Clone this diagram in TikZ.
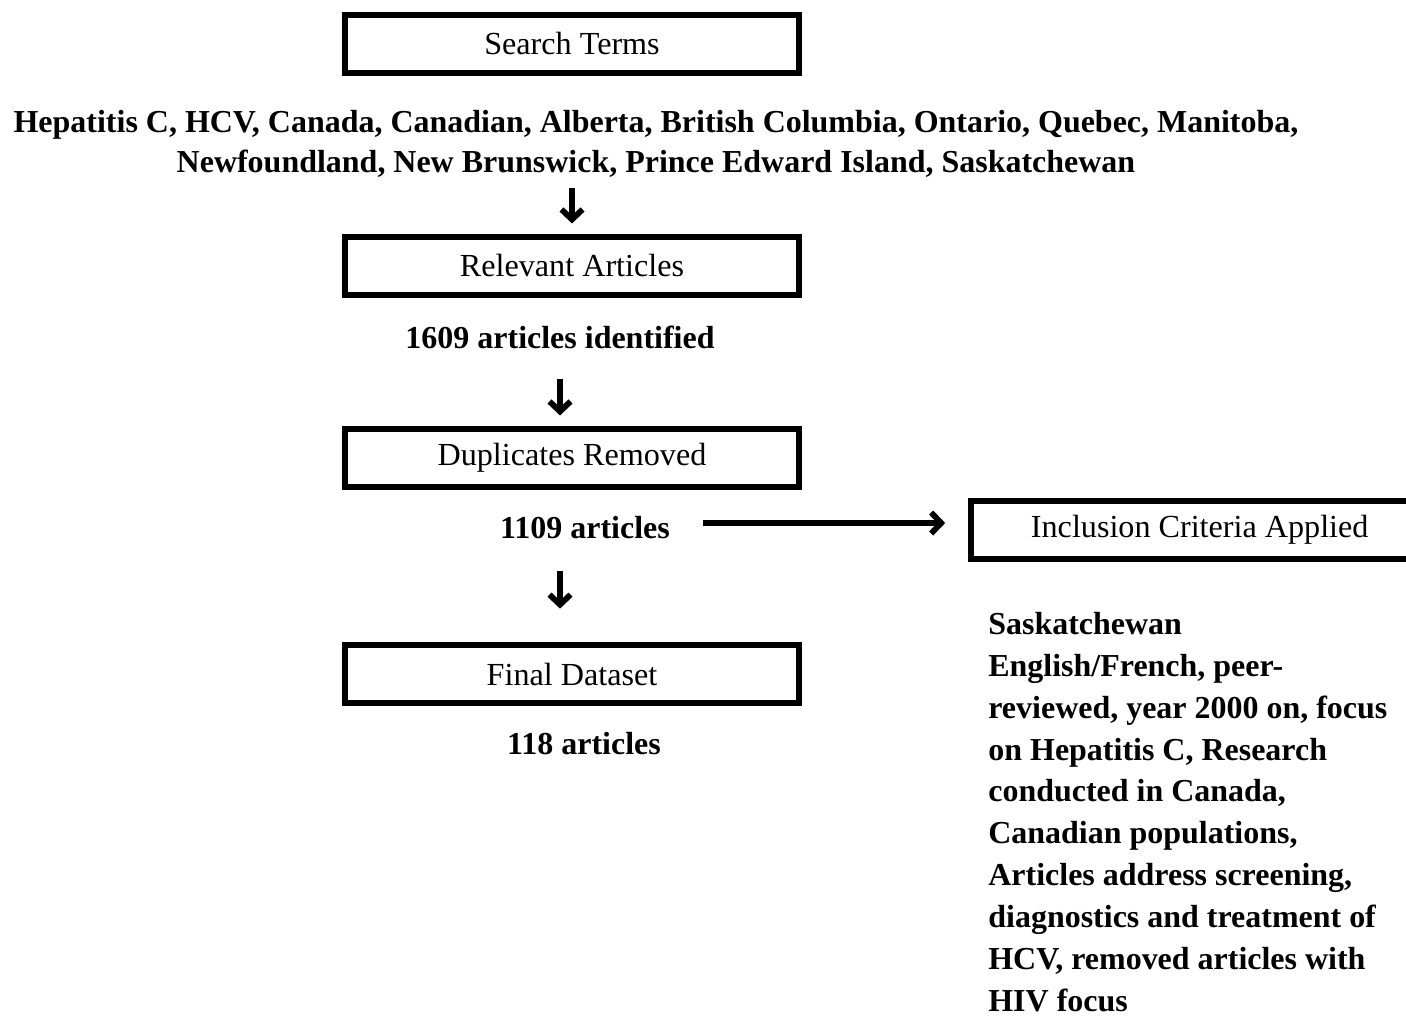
\documentclass[tikz,border=0pt]{standalone}
\usepackage{fontspec}
\setmainfont{Liberation Serif}
\usetikzlibrary{positioning}
\usetikzlibrary{arrows.meta}

\tikzset{
  stagebox/.style={draw, line width=3.4pt, minimum width=9.1cm, minimum height=1.16cm,
    inner sep=0pt, font=\fontsize{18.3}{21}\selectfont},
  bodytext/.style={inner sep=0pt, font=\fontsize{18.2}{21}\selectfont\bfseries},
  flow/.style={line width=3.3pt, -{Straight Barb[length=0.2cm,width=0.42cm,line width=3.3pt]}}
}

\begin{document}
\begin{tikzpicture}[x=0.02cm,y=-0.02cm]
\useasboundingbox (0,0) rectangle (1406,1017);

% boxes of the flow
\node[stagebox] (search) at (572,44) {Search Terms};
\node[stagebox] (relevant) at (572,266) {Relevant Articles};
\node[stagebox] (dupl) at (572,458) {Duplicates Removed};
\node[stagebox] (final) at (572,674) {Final Dataset};
\node[stagebox, anchor=west] (incl) at (968,530) {\hspace*{0.05cm}Inclusion Criteria Applied};

% texts under the boxes
\node[bodytext, align=center, font=\fontsize{18.2}{22.8}\selectfont\bfseries] (terms) at (656,144)
  {Hepatitis C, HCV, Canada, Canadian, Alberta, British Columbia, Ontario, Quebec, Manitoba,\\
   Newfoundland, New Brunswick, Prince Edward Island, Saskatchewan};
\node[bodytext] (ident) at (560,337) {1609 articles identified};
\node[bodytext] (kept) at (585,528) {1109 articles};
\node[bodytext] (result) at (584,744) {118 articles};
\node[bodytext, align=left, anchor=west, font=\fontsize{18.2}{23.8}\selectfont\bfseries] (criteria) at (988,812)
  {Saskatchewan\\
   English/French, peer-\\
   reviewed, year 2000 on, focus\\
   on Hepatitis C, Research\\
   conducted in Canada,\\
   Canadian populations,\\
   Articles address screening,\\
   diagnostics and treatment of\\
   HCV, removed articles with\\
   HIV focus};

\draw[flow, shorten <=6pt, shorten >=6pt] (terms.south -| relevant.north) -- (relevant.north);
\draw[flow, shorten <=17pt, shorten >=6pt] (ident.south) -- (ident.south |- dupl.north);
\draw[flow, shorten <=46pt, shorten >=19pt] (ident.south |- dupl.south) -- (ident.south |- final.north);
\draw[flow, shorten <=18.8pt, shorten >=13pt] ([yshift=0.1cm]kept.east) -- ([yshift=0.1cm]kept.east -| incl.west);
\end{tikzpicture}
\end{document}
